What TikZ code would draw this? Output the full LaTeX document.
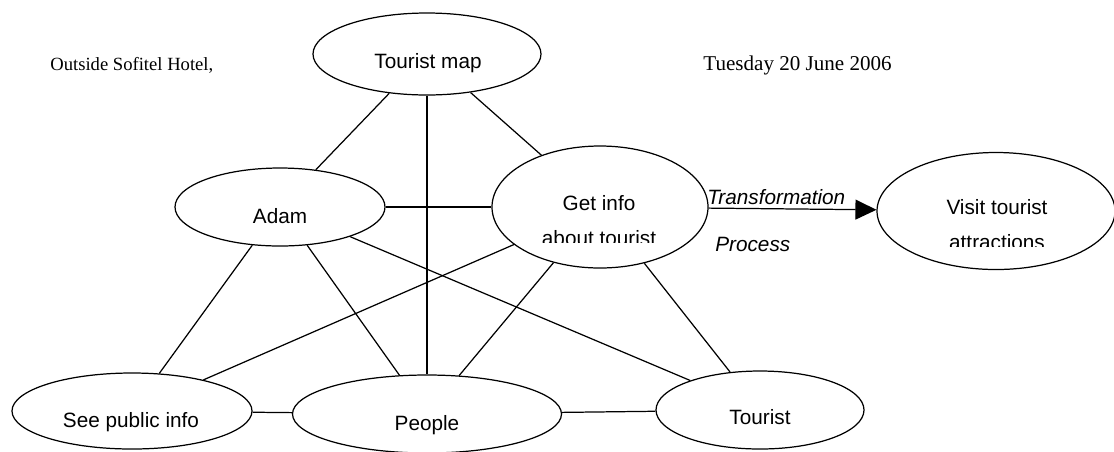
\documentclass[tikz,border=0pt]{standalone}
\usepackage{fontspec}
\setmainfont{Liberation Sans}
\newfontfamily\timesfont{Liberation Serif}
\usetikzlibrary{shapes.geometric, arrows.meta}

\begin{document}
\begin{tikzpicture}[
            x=0.02cm, y=-0.02cm,
            % Style for the ellipses of the rich picture
            blob/.style={draw, ellipse, line width=0.7pt, inner sep=0},
            % Style for the words inside the ellipses
            tag/.style={font=\fontsize{11.8}{14}\selectfont, anchor=base, inner sep=0},
            % Style for the header line
            head/.style={font=\timesfont\fontsize{10.6}{13}\selectfont, anchor=base west, inner sep=0},
            link/.style={line width=0.7pt}
        ]
        \useasboundingbox (0,0) rectangle (1114,451);

        % --- Header: place and date ---
        \node[head] (place) at (50,70) {Outside Sofitel Hotel,};
        \node[head, font=\timesfont\fontsize{12}{14}\selectfont] (date) at (703,70) {Tuesday 20 June 2006};

        % --- The ellipses ---
        \node[blob, minimum width=228*0.02cm, minimum height=82*0.02cm] (map) at (427,54) {};
        \node[blob, minimum width=210*0.02cm, minimum height=78*0.02cm] (adam) at (280,207) {};
        \node[blob, minimum width=216*0.02cm, minimum height=122*0.02cm] (info) at (600,207) {};
        \node[blob, minimum width=238*0.02cm, minimum height=117*0.02cm] (visit) at (996,211) {};
        \node[blob, minimum width=240*0.02cm, minimum height=76*0.02cm] (public) at (132,411) {};
        \node[blob, minimum width=269*0.02cm, minimum height=78*0.02cm] (people) at (427,414) {};
        \node[blob, minimum width=208*0.02cm, minimum height=78*0.02cm] (tourist) at (760,410) {};

        % Labels, set a bit below the centres
        \node[tag] (map-t) at (428,68) {Tourist map};
        \node[tag] (adam-t) at (280,223) {Adam};
        \node[tag] (info-t) at (599,210) {Get info};
        \node[tag] (visit-t) at (997,214) {Visit tourist};
        \node[tag] (public-t) at (131,427) {See public info};
        \node[tag] (people-t) at (427,430) {People};
        \node[tag] (tourist-t) at (760,424) {Tourist};

        % Second lines are cut off by their text boxes
        \begin{scope}
            \clip (492,150) rectangle (708,242);
            \node[tag] (info-b) at (599,245) {about tourist};
        \end{scope}
        \begin{scope}
            \clip (878,150) rectangle (1114,246);
            \node[tag] (visit-b) at (997,249) {attractions};
        \end{scope}

        % --- Connectors between the ellipses ---
        \foreach \a/\b in {map/adam, map/people, map/info, adam/info, adam/public,
                           adam/people, adam/tourist, info/public, info/people,
                           info/tourist, public/people, people/tourist} {
            \draw[link] (\a) -- (\b);
        }

        % --- Transformation arrow ---
        \draw[link, -{Triangle[length=21*0.02cm, width=20*0.02cm]}] (info) -- (visit);
        \node[tag, anchor=base west, font=\itshape\fontsize{11.8}{14}\selectfont] (trans) at (707,204) {Transformation};
        \node[tag, anchor=base west, font=\itshape\fontsize{11.8}{14}\selectfont] (proc) at (715,251) {Process};

        \end{tikzpicture}
\end{document}
